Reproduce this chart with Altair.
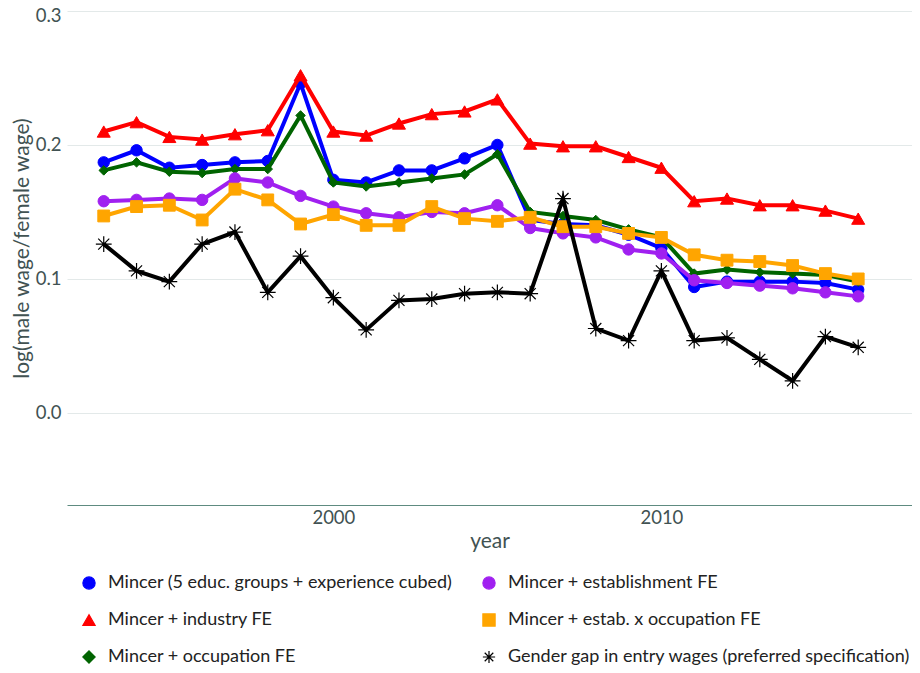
import altair as alt
import pandas as pd

years = list(range(1993, 2017))

names = [
    "Mincer (5 educ. groups + experience cubed)",
    "Mincer + industry FE",
    "Mincer + occupation FE",
    "Mincer + establishment FE",
    "Mincer + estab. x occupation FE",
    "Gender gap in entry wages (preferred specification)",
]

mincer = [0.187, 0.196, 0.183, 0.185, 0.187, 0.188, 0.246, 0.174, 0.172, 0.181, 0.181, 0.190,
          0.200, 0.144, 0.141, 0.140, 0.133, 0.123, 0.094, 0.098, 0.098, 0.098, 0.097, 0.092]
industry = [0.210, 0.217, 0.206, 0.204, 0.208, 0.211, 0.252, 0.210, 0.207, 0.216, 0.223, 0.225,
            0.234, 0.201, 0.199, 0.199, 0.191, 0.183, 0.158, 0.160, 0.155, 0.155, 0.151, 0.145]
occupation = [0.181, 0.187, 0.180, 0.179, 0.182, 0.182, 0.222, 0.172, 0.169, 0.172, 0.175, 0.178,
              0.193, 0.150, 0.147, 0.144, 0.137, 0.131, 0.104, 0.107, 0.105, 0.104, 0.103, 0.098]
establishment = [0.158, 0.159, 0.160, 0.159, 0.175, 0.172, 0.162, 0.154, 0.149, 0.146, 0.150, 0.149,
                 0.155, 0.138, 0.134, 0.131, 0.122, 0.119, 0.099, 0.097, 0.095, 0.093, 0.090, 0.087]
estab_occ = [0.147, 0.154, 0.155, 0.144, 0.167, 0.159, 0.141, 0.148, 0.140, 0.140, 0.154, 0.145,
             0.143, 0.146, 0.139, 0.139, 0.134, 0.131, 0.118, 0.114, 0.113, 0.110, 0.104, 0.100]
entry_gap = [0.126, 0.106, 0.098, 0.126, 0.135, 0.090, 0.117, 0.086, 0.062, 0.084, 0.085, 0.089,
             0.090, 0.089, 0.160, 0.063, 0.054, 0.106, 0.054, 0.056, 0.040, 0.024, 0.057, 0.049]

series_values = [mincer, industry, occupation, establishment, estab_occ, entry_gap]

colors = ["#0000ff", "#ff0000", "#006400", "#a020f0", "#ffa500", "#000000"]
asterisk = "M0,-1L0,1M-1,0L1,0M-0.7,-0.7L0.7,0.7M-0.7,0.7L0.7,-0.7"
shapes = ["circle", "triangle-up", "diamond", "circle", "square", asterisk]
sizes = [130, 170, 90, 130, 140, 250]
stroke_widths = [1, 1, 1, 1, 1, 1.2]

rows = []
for n, vals in zip(names, series_values):
    for yr, v in zip(years, vals):
        rows.append({"year": yr, "value": v, "series": n})
df = pd.DataFrame(rows)

FONT = "Lato"
LABEL_COLOR = "#415252"

x_enc = alt.X("year:Q",
              scale=alt.Scale(domain=[1991.88, 2017.64], nice=False, zero=False),
              axis=alt.Axis(values=[2000, 2010], format="d", title="year", grid=False,
                            ticks=False, domainColor="#5e8b80", domainWidth=1.2,
                            labelPadding=3, titlePadding=4))
y_enc = alt.Y("value:Q",
              scale=alt.Scale(domain=[-0.0687, 0.3022], nice=False, zero=False),
              axis=alt.Axis(values=[0.0, 0.1, 0.2, 0.3], format=".1f",
                            title="log(male wage/female wage)", domain=False, ticks=False,
                            labelPadding=6, gridColor="#e3e9e9", titleX=-45,
                            titleY=240, titleBaseline="middle",
                            labelOffset={"condition": {"test": "datum.value >= 0.29", "value": 5},
                                         "value": 0}))

legend = alt.Legend(title=None, orient="none", legendX=13, legendY=566, columns=2,
                    columnPadding=27, rowPadding=19, symbolSize=150, symbolStrokeWidth=1.2,
                    labelOffset=10, labelFontSize=18, labelFont=FONT, labelColor="#222222",
                    labelLimit=600, padding=0)

fill_scale = alt.Scale(domain=names, range=colors)
shape_scale = alt.Scale(domain=names, range=shapes)

layers = []
for n, col, shp, sz, sw in zip(names, colors, shapes, sizes, stroke_widths):
    base = alt.Chart(df).transform_filter(alt.datum.series == n)
    line = base.mark_line(color=col, strokeWidth=4).encode(x=x_enc, y=y_enc)
    pts = base.mark_point(filled=True, size=sz, strokeWidth=sw, opacity=1).encode(
        x=x_enc, y=y_enc,
        fill=alt.Fill("series:N", scale=fill_scale, legend=legend),
        stroke=alt.Stroke("series:N", scale=fill_scale, legend=legend),
        shape=alt.Shape("series:N", scale=shape_scale, legend=legend),
    )
    layers += [line, pts]

chart = alt.layer(*layers).properties(
    width=845, height=497,
    autosize=alt.AutoSizeParams(type="none"),
    padding={"left": 59, "top": 0, "right": 0, "bottom": 166},
).configure_view(stroke=None).configure_axis(
    labelFont=FONT, titleFont=FONT, labelFontSize=18.5, titleFontSize=21,
    labelColor=LABEL_COLOR, titleColor=LABEL_COLOR, titleFontWeight="normal",
)

chart.save("out.html", embed_options={"renderer": "svg", "actions": False})
